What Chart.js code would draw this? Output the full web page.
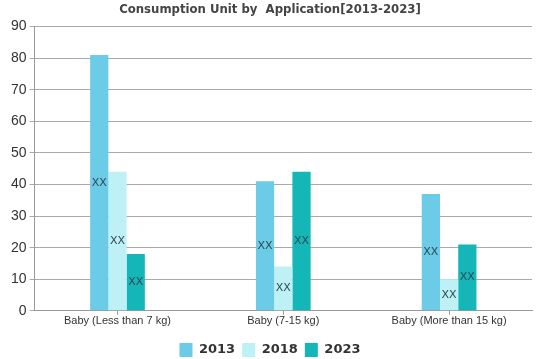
<!DOCTYPE html>
<html><head><meta charset="utf-8">
<script src="https://cdn.jsdelivr.net/npm/chart.js@4.4.1/dist/chart.umd.min.js"></script>
<style>html,body{margin:0;padding:0;background:#fff;}#wrap{width:539px;height:359px;position:relative;}</style>
</head><body><div id="wrap"><canvas id="c" width="539" height="359"></canvas></div>
<script>
const categories = ["Baby (Less than 7 kg)", "Baby (7-15 kg)", "Baby (More than 15 kg)"];
const seriesNames = ["2013", "2018", "2023"];
const values2013 = [81, 41, 37];
const values2018 = [44, 14, 10];
const values2023 = [18, 44, 21];
const barLabels = ["XX", "XX", "XX"];
const colors = ["#6ccbe6", "#bdf1f6", "#14b6b8"];
const titleText = "Consumption Unit by  Application[2013-2023]";

const xxPlugin = {
  id: 'xx',
  afterLayout(chart) {
    if (chart.legend) { chart.legend.top += 8; chart.legend.bottom += 8; }
  },
  afterDatasetsDraw(chart) {
    const ctx = chart.ctx;
    ctx.save();
    ctx.font = '11px "DejaVu Sans", sans-serif';
    ctx.fillStyle = '#2d4a55';
    ctx.textAlign = 'center';
    ctx.textBaseline = 'middle';
    chart.data.datasets.forEach((ds, i) => {
      chart.getDatasetMeta(i).data.forEach((bar, j) => {
        const y = (bar.y + bar.base) / 2;
        ctx.fillText(barLabels[j], bar.x, y);
      });
    });
    ctx.restore();
  }
};

new Chart(document.getElementById('c'), {
  type: 'bar',
  data: {
    labels: categories,
    datasets: [
      {label: seriesNames[0], data: values2013, backgroundColor: colors[0]},
      {label: seriesNames[1], data: values2018, backgroundColor: colors[1]},
      {label: seriesNames[2], data: values2023, backgroundColor: colors[2]}
    ]
  },
  options: {
    responsive: false,
    animation: false,
    layout: {padding: {left: 8, right: 7, top: 0, bottom: 0}},
    datasets: {bar: {categoryPercentage: 0.33, barPercentage: 1.0}},
    plugins: {
      title: {display: true, text: titleText, color: '#444',
        font: {family: '"DejaVu Sans Condensed", "DejaVu Sans", sans-serif', weight: 'bold', size: 13},
        padding: {top: 2, bottom: 9}},
      legend: {position: 'bottom', labels: {boxWidth: 13, boxHeight: 14, color: '#333', padding: 7,
        font: {family: '"DejaVu Sans", sans-serif', weight: 'bold', size: 13}}},
      tooltip: {enabled: false}
    },
    scales: {
      x: {
        grid: {display: true, offset: false, drawOnChartArea: false, drawTicks: true, tickLength: 4, color: '#999'},
        border: {color: '#999', width: 1},
        ticks: {color: '#333', padding: 0, font: {family: '"Liberation Sans", Arial, sans-serif', size: 11}}
      },
      y: {
        min: 0, max: 90,
        grid: {color: '#aaa', tickLength: 5},
        border: {color: '#999', width: 1},
        ticks: {stepSize: 10, color: '#333', padding: 3, font: {family: '"Liberation Sans", Arial, sans-serif', size: 14}}
      }
    }
  },
  plugins: [xxPlugin]
});
</script></body></html>
